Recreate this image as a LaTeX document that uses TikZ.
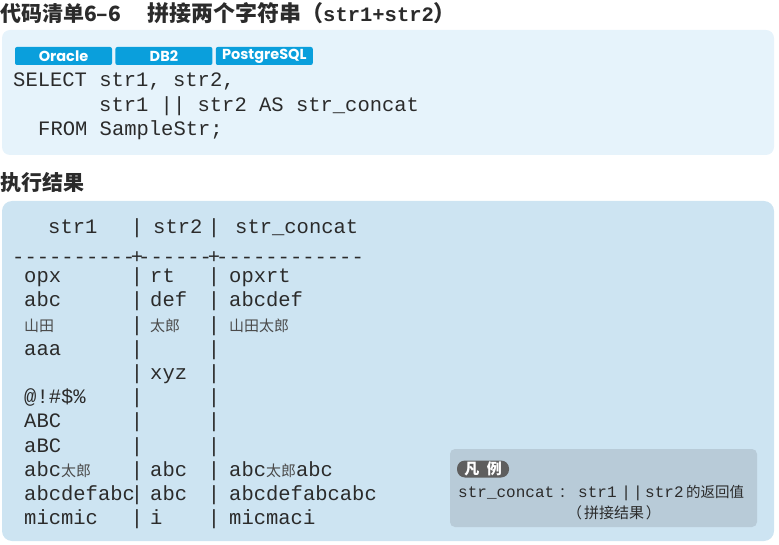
\documentclass[tikz,border=0pt]{standalone}
\usepackage{fontspec}
\setmainfont{Liberation Sans}
\setmonofont{Liberation Mono}
\newfontfamily\cjk{Noto Sans CJK SC}
\newfontfamily\tagfont{Poppins}
\usepackage{tikz}
\usetikzlibrary{positioning}
\usepackage{xcolor}
\definecolor{codebg}{HTML}{E6F3FB}
\definecolor{resbg}{HTML}{CDE4F2}
\definecolor{notebg}{HTML}{B8CBD8}
\definecolor{badge}{HTML}{0A9FDC}
\definecolor{notetag}{HTML}{5E5E5E}
\definecolor{ink}{HTML}{2B2B2B}
\newcommand{\jp}[1]{{\cjk\fontsize{15}{15}\selectfont\color{ink!85}#1}}

\begin{document}
\begin{tikzpicture}[x=1pt, y=-1pt,
    every node/.style = {inner sep=0pt, text=ink},
    code/.style = {anchor=base west, font=\ttfamily\fontsize{20.5}{24}\selectfont},
    bar/.style = {anchor=base, font=\ttfamily\fontsize{20.5}{24}\selectfont},
    head/.style = {anchor=base west, font=\cjk\bfseries\fontsize{21}{21}\selectfont},
    tag/.style = {fill=badge, rounded corners=2pt, minimum width=97pt, minimum height=18pt,
      text=white, font=\tagfont\bfseries\fontsize{14.5}{14.5}\selectfont}
    ]
    \useasboundingbox (0,0) rectangle (779,545);
    % panels
    \fill[codebg, rounded corners=8pt] (2,30) rectangle (774,155);
    \fill[resbg, rounded corners=10pt] (2,201) rectangle (774,541);
    \fill[notebg, rounded corners=5pt] (450,449) rectangle (757,527);

    % headings
    \node[head] (title) at (0,21.5) {代码清单6–6};
    \node[head, font=\cjk\bfseries\fontsize{22}{22}\selectfont] (name) at (147,21.5)
      {拼接两个字符串（{\ttfamily\bfseries\fontsize{20.5}{21}\selectfont str1+str2}）};
    \node[head] (result) at (0,190.5) {执行结果};

    % code listing
    \node[tag] (oracle) at (63.5,56) {Oracle};
    \node[tag, right=3pt of oracle] (db2) {DB2};
    \node[tag, right=3pt of db2] (pg) {PostgreSQL};
    \node[code] (sel) at (13,87) {SELECT str1, str2,};
    \node[code] (cat) at (99,111.5) {str1 || str2 AS str\_concat};
    \node[code] (from) at (38,135.5) {FROM SampleStr;};

    % result table
    \node[code] (h1) at (48,234) {str1};
    \node[bar] (hp) at (137,234) {|};
    \node[code] (h2) at (153,234) {str2};
    \node[bar] (hq) at (214,234) {|};
    \node[code] (h3) at (235,234) {str\_concat};
    \node[code] (d1) at (12,264) {----------};
    \node[bar] (dp) at (137,264) {+};
    \node[code] (d2) at (138,264) {------};
    \node[bar] (dq) at (214,264) {+};
    \node[code] (d3) at (216,264) {------------};
    \foreach \ca/\cb/\cc [count=\i from 0] in {opx/rt/opxrt, abc/def/abcdef,
        \jp{山田}/\jp{太郎}/\jp{山田太郎}, aaa/{}/{}, {}/xyz/{}, @!\#\$\%/{}/{},
        ABC/{}/{}, aBC/{}/{}, abc\jp{太郎}/abc/abc\jp{太郎}abc,
        abcdefabc/abc/abcdefabcabc, micmic/i/micmaci}
    {
      \node[code] (a\i) at (24,282.7+24.2*\i) {\ca};
      \node[bar] (p\i) at (137,282.7+24.2*\i) {|};
      \node[code] (b\i) at (150,282.7+24.2*\i) {\cb};
      \node[bar] (q\i) at (214,282.7+24.2*\i) {|};
      \node[code] (c\i) at (229,282.7+24.2*\i) {\cc};
    }

    % legend
    \node[fill=notetag, rounded corners=8pt, minimum width=52pt, minimum height=17pt,
      text=white, font=\cjk\bfseries\fontsize{15}{15}\selectfont] (legend) at (483,469) {凡\hspace{0.5em}例};
    \node[code, font=\ttfamily\fontsize{16}{16}\selectfont] (key) at (458,497) {str\_concat};
    \node[anchor=base west, font=\cjk\fontsize{14}{14}\selectfont] (colon) at (559,497) {：};
    \node[code, font=\ttfamily\fontsize{16}{16}\selectfont] (k1) at (578,497) {str1};
    \node[bar, font=\ttfamily\fontsize{16}{16}\selectfont] (kor) at (632,497) {|\kern2pt|};
    \node[code, font=\ttfamily\fontsize{16}{16}\selectfont] (k2) at (645,497) {str2};
    \node[anchor=base west, font=\cjk\fontsize{14.5}{14.5}\selectfont] (ret) at (686,497) {的返回值};
    \node[anchor=base, font=\cjk\fontsize{15}{15}\selectfont] (means) at (614,518.5) {（\kern2pt拼接结果\kern2pt）};
\end{tikzpicture}
\end{document}
